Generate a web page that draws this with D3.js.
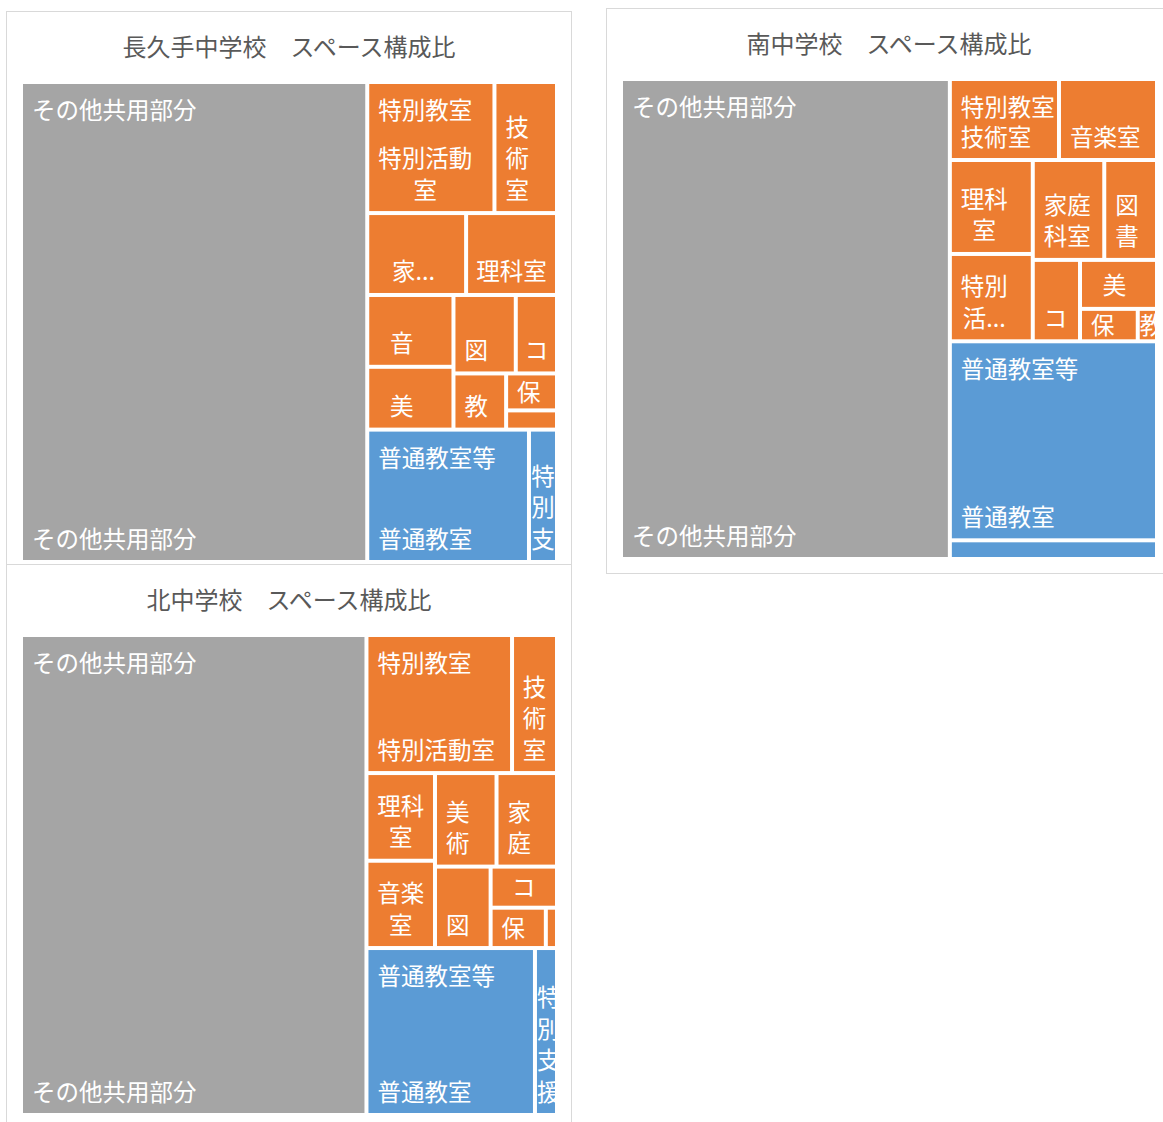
<!DOCTYPE html>
<html lang="ja">
<head>
<meta charset="utf-8">
<title>スペース構成比</title>
<script src="https://cdn.jsdelivr.net/npm/d3@7"></script>
<style>
  body { margin: 0; background: #fff; }
  svg { display: block; font-family: "Noto Sans CJK JP", "Noto Sans", sans-serif; }
</style>
</head>
<body>
<div id="chart-area"></div>
<script>

// groups (top level of each treemap) and their colours
var groupNames  = ["その他共用部分", "特別教室", "普通教室等"];
var groupColors = ["#A5A5A5", "#ED7D31", "#5B9BD5"];
var titleSuffix = "　スペース構成比";

// 長久手中学校
var nagakuteRooms  = ["その他共用部分", "特別活動室", "技術室", "家庭科室", "理科室", "音楽室", "美術室", "図書室", "コンピュータ室", "教育相談室", "保健室", "その他", "普通教室", "特別支援教室"];
var nagakuteGroup  = [0, 1, 1, 1, 1, 1, 1, 1, 1, 1, 1, 1, 2, 2];
var nagakuteArea   = [6629, 665, 327, 323, 297, 247, 216, 195, 129, 118, 75, 39, 854, 148];
var nagakuteLabels = ["その他共用部分", "特別活動\n室", "技\n術\n室", "家...", "理科室", "音", "美", "図", "コ", "教", "保", "", "普通教室", "特\n別\n支"];

// 南中学校
var minamiRooms  = ["その他共用部分", "技術室", "音楽室", "理科室", "特別活動室", "家庭科室", "図書室", "コンピュータ室", "美術室", "保健室", "教育相談室", "普通教室", "特別支援教室"];
var minamiGroup  = [0, 1, 1, 1, 1, 1, 1, 1, 1, 1, 1, 2, 2];
var minamiArea   = [6322, 354, 318, 312, 290, 286, 211, 154, 151, 75, 25, 1651, 155];
var minamiLabels = ["その他共用部分", "技術室", "音楽室", "理科\n室", "特別\n活...", "家庭\n科室", "図\n書", "コ", "美", "保", "教", "普通教室", ""];

// 北中学校
var kitaRooms  = ["その他共用部分", "特別活動室", "技術室", "理科室", "音楽室", "美術室", "家庭科室", "図書室", "コンピュータ室", "保健室", "その他", "普通教室", "特別支援教室"];
var kitaGroup  = [0, 1, 1, 1, 1, 1, 1, 1, 1, 1, 1, 2, 2];
var kitaArea   = [6625, 803, 248, 240, 239, 230, 226, 181, 109, 89, 18, 1124, 147];
var kitaLabels = ["その他共用部分", "特別活動室", "技\n術\n室", "理科\n室", "音楽\n室", "美\n術", "家\n庭", "図", "コ", "保", "", "普通教室", "特\n別\n支\n援"];

var svgW = 1163, svgH = 1122;
var frameW = 565, frameH = 565;
var plotLeft = 14.5, plotTop = 70.5, plotW = 536, plotH = 480;
var gap = 2;   // half of the white gap between cells
var fontSize = 23.5, lineStep = 31.5, textPad = 9;

var charts = [
  {school: "長久手中学校", x: 6.5,   y: 11.5,  rooms: nagakuteRooms, groups: nagakuteGroup, areas: nagakuteArea, labels: nagakuteLabels},
  {school: "南中学校",     x: 606.5, y: 8.5,   rooms: minamiRooms,   groups: minamiGroup,   areas: minamiArea,   labels: minamiLabels},
  {school: "北中学校",     x: 6.5,   y: 564.5, rooms: kitaRooms,     groups: kitaGroup,     areas: kitaArea,     labels: kitaLabels}
];

var svg = d3.select("#chart-area")
    .append("svg")
        .attr("width", svgW)
        .attr("height", svgH);

// squarified rows: a row keeps growing while the area weighted
// aspect ratio of its cells does not get worse
function rowScore(nodes, i0, i1, sum, value, along, across) {
	var t = across * sum / value, total = 0;
	for (var i = i0; i < i1; i++) {
		var w = along * nodes[i].value / sum;
		total += nodes[i].value * Math.max(t / w, w / t);
	}
	return total / sum;
}

function tileRows(parent, x0, y0, x1, y1) {
	var nodes = parent.children, n = nodes.length, i0 = 0, value = parent.value;
	while (i0 < n && value > 0) {
		var dx = x1 - x0, dy = y1 - y0, dice = dx < dy;
		var along = dice ? dx : dy, across = dice ? dy : dx;
		var i1 = i0 + 1, sum = nodes[i0].value;
		var best = rowScore(nodes, i0, i1, sum, value, along, across);
		while (i1 < n) {
			var s = sum + nodes[i1].value;
			var score = rowScore(nodes, i0, i1 + 1, s, value, along, across);
			if (score > best) break;
			best = score; sum = s; i1++;
		}
		var row = {value: sum, children: nodes.slice(i0, i1)};
		if (dice) d3.treemapDice(row, x0, y0, x1, y0 += dy * sum / value);
		else d3.treemapSlice(row, x0, y0, x0 += dx * sum / value, y1);
		value -= sum;
		i0 = i1;
	}
}

function leafText(sel, d) {
	var lx = d.x0 + gap, ly = d.y0 + gap, lw = d.x1 - d.x0 - 2 * gap, lh = d.y1 - d.y0 - 2 * gap;
	var lines = d.data.label ? d.data.label.split("\n") : [];
	if (lh < 20 || !lines.length) return;
	var perLine = Math.max(1, Math.floor((lw - 14) / fontSize));
	var blockW = Math.min(d.data.name.length, perLine) * fontSize;
	var pad = Math.max(0, Math.min(textPad, (lw - blockW) / 2));
	var cx = lx + pad + blockW / 2;
	var bottom = ly + lh - 22.5;
	if (lines.length === 1) bottom = Math.max(bottom, ly + lh / 2 - 1);
	lines.forEach(function(line, k) {
		sel.append("text")
			.attr("x", cx)
			.attr("y", bottom - (lines.length - 1 - k) * lineStep)
			.attr("text-anchor", "middle")
			.attr("dominant-baseline", "central")
			.attr("font-size", fontSize)
			.attr("fill", "#fff")
			.text(line);
	});
}

function drawChart(c, ci) {
	var g = svg.append("g")
		.attr("transform", "translate(" + c.x + "," + c.y + ")");

	g.append("rect")
		.attr("width", frameW)
		.attr("height", frameH)
		.attr("fill", "#fff")
		.attr("stroke", "#D9D9D9");

	g.append("text")
		.attr("x", frameW / 2)
		.attr("y", 33.5)
		.attr("text-anchor", "middle")
		.attr("dominant-baseline", "central")
		.attr("font-size", 24)
		.attr("fill", "#595959")
		.text(c.school + titleSuffix);

	var data = {name: c.school, children: groupNames.map(function(name, gi) {
		return {name: name, group: gi, children: c.rooms.map(function(r, i) {
			return {name: r, group: gi, area: c.areas[i], label: c.labels[i]};
		}).filter(function(d, i) { return c.groups[i] === gi; })};
	})};

	var root = d3.hierarchy(data)
		.sum(function(d) { return d.area || 0; })
		.sort(function(a, b) { return b.value - a.value; });

	d3.treemap().size([plotW, plotH]).tile(tileRows)(root);

	var plot = g.append("g")
		.attr("transform", "translate(" + plotLeft + "," + plotTop + ")");

	var leaves = root.leaves();
	var cell = plot.selectAll("g.cell")
		.data(leaves)
		.join("g")
			.attr("class", "cell");

	cell.append("clipPath")
		.attr("id", function(d, i) { return "clip-" + ci + "-" + i; })
		.append("rect")
			.attr("x", function(d) { return d.x0 + gap; })
			.attr("y", function(d) { return d.y0 + gap; })
			.attr("width", function(d) { return Math.max(0, d.x1 - d.x0 - 2 * gap); })
			.attr("height", function(d) { return Math.max(0, d.y1 - d.y0 - 2 * gap); });

	cell.append("rect")
		.attr("x", function(d) { return d.x0 + gap; })
		.attr("y", function(d) { return d.y0 + gap; })
		.attr("width", function(d) { return Math.max(0, d.x1 - d.x0 - 2 * gap); })
		.attr("height", function(d) { return Math.max(0, d.y1 - d.y0 - 2 * gap); })
		.attr("fill", function(d) { return groupColors[d.data.group]; });

	var labelG = cell.append("g")
		.attr("clip-path", function(d, i) { return "url(#clip-" + ci + "-" + i + ")"; });

	labelG.each(function(d) { leafText(d3.select(this), d); });

	// group name on top of its largest cell
	labelG.filter(function(d) { return d.parent.children[0] === d; })
		.append("text")
			.attr("x", function(d) { return d.x0 + gap + textPad; })
			.attr("y", function(d) { return d.y0 + gap + 25; })
			.attr("dominant-baseline", "central")
			.attr("font-size", fontSize)
			.attr("fill", "#fff")
			.text(function(d) { return d.parent.data.name; });
}

charts.forEach(drawChart);

</script>
</body>
</html>
